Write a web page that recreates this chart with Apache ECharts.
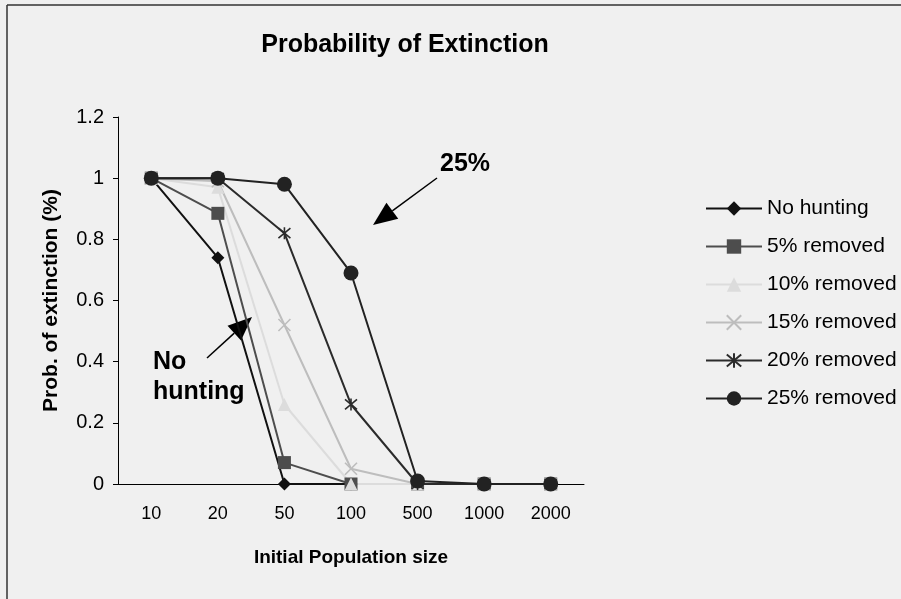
<!DOCTYPE html>
<html>
<head>
<meta charset="utf-8">
<script src="https://cdn.jsdelivr.net/npm/echarts@6/dist/echarts.min.js"></script>
<style>
  html, body { margin: 0; padding: 0; background: #f0f0f0; }
  #chart { width: 901px; height: 599px; }
</style>
</head>
<body>
<div id="chart"></div>
<script>
const categories = ['10', '20', '50', '100', '500', '1000', '2000']
const seriesNames = ['No hunting', '5% removed', '10% removed', '15% removed', '20% removed', '25% removed']
const noHunting = [1, 0.74, 0, 0, 0, 0, 0]
const removed5 = [1, 0.885, 0.07, 0, 0, 0, 0]
const removed10 = [1, 0.97, 0.26, 0, 0, 0, 0]
const removed15 = [1, 0.99, 0.52, 0.05, 0, 0, 0]
const removed20 = [1, 1, 0.82, 0.26, 0, 0, 0]
const removed25 = [1, 1, 0.98, 0.69, 0.01, 0, 0]
const yTicks = [0, 0.2, 0.4, 0.6, 0.8, 1, 1.2]

const font = 'Arial, "Liberation Sans", sans-serif'
const crossPath = 'path://M0,0L10,10M10,0L0,10'
const starPath = 'path://M0,0L10,10M10,0L0,10M5,-1L5,11'

const chart = echarts.init(document.getElementById('chart'))

function arrow(x1, y1, x2, y2) {
  // shaft plus filled head, tip at (x2, y2)
  const dx = x2 - x1, dy = y2 - y1
  const len = Math.hypot(dx, dy)
  const ux = dx / len, uy = dy / len
  const hl = 24, hw = 10
  const bx = x2 - ux * hl, by = y2 - uy * hl
  return [
    { type: 'line', shape: { x1, y1, x2: bx, y2: by }, style: { stroke: '#000', lineWidth: 1.5 } },
    { type: 'polygon', shape: { points: [[x2, y2], [bx - uy * hw, by + ux * hw], [bx + uy * hw, by - ux * hw]] }, style: { fill: '#000' } },
  ]
}

function makeSeries(name, data, color, symbol, size, hollow) {
  return {
    name,
    type: 'line',
    data,
    symbol,
    symbolSize: size,
    showAllSymbol: true,
    lineStyle: { color, width: 2 },
    itemStyle: hollow
      ? { color: 'none', borderColor: color, borderWidth: 1.6 }
      : { color, borderColor: color, borderWidth: 0 },
    emphasis: { disabled: true },
  }
}

chart.setOption({
  animation: false,
  backgroundColor: '#f0f0f0',
  textStyle: { fontFamily: font },
  title: {
    text: 'Probability of Extinction',
    left: 400,
    top: 28,
    textAlign: 'center',
    textStyle: { fontSize: 25, fontWeight: 'bold', color: '#000', fontFamily: font },
  },
  legend: {
    orient: 'vertical',
    left: 700,
    top: 193,
    itemWidth: 56,
    itemHeight: 18,
    itemGap: 17,
    textStyle: { fontSize: 21, color: '#000', lineHeight: 21, fontFamily: font },
    data: seriesNames,
  },
  grid: { left: 118, right: 317, top: 117, bottom: 115 },
  xAxis: {
    type: 'category',
    data: categories,
    name: 'Initial Population size',
    nameLocation: 'middle',
    nameGap: 64,
    nameTextStyle: { fontSize: 19, fontWeight: 'bold', color: '#000', fontFamily: font },
    axisLine: { lineStyle: { color: '#000', width: 1 } },
    axisTick: { length: 6, lineStyle: { color: '#000' } },
    axisLabel: { fontSize: 18, color: '#000', margin: 21, fontFamily: font },
  },
  yAxis: {
    type: 'value',
    min: yTicks[0],
    max: yTicks[yTicks.length - 1],
    interval: 0.2,
    name: 'Prob. of extinction (%)',
    nameLocation: 'middle',
    nameGap: 56,
    nameTextStyle: { fontSize: 21, fontWeight: 'bold', color: '#000', fontFamily: font },
    axisLine: { show: true, lineStyle: { color: '#000', width: 1 } },
    axisTick: { show: true, length: 5, lineStyle: { color: '#000' } },
    splitLine: { show: false },
    axisLabel: { fontSize: 20, color: '#000', margin: 14, fontFamily: font },
  },
  series: [
    makeSeries(seriesNames[0], noHunting, '#111111', 'diamond', 13),
    makeSeries(seriesNames[1], removed5, '#4d4d4d', 'rect', 13),
    makeSeries(seriesNames[2], removed10, '#dcdcdc', 'triangle', 13),
    makeSeries(seriesNames[3], removed15, '#bdbdbd', crossPath, 12, true),
    makeSeries(seriesNames[4], removed20, '#2b2b2b', starPath, 12, true),
    makeSeries(seriesNames[5], removed25, '#222222', 'circle', 15),
  ],
  graphic: [
    { type: 'line', shape: { x1: 7, y1: 5, x2: 901, y2: 5 }, style: { stroke: '#333', lineWidth: 1.5 } },
    { type: 'line', shape: { x1: 7, y1: 5, x2: 7, y2: 599 }, style: { stroke: '#333', lineWidth: 1.5 } },
    { type: 'text', left: 440, top: 152, style: { text: '25%', fill: '#000', font: 'bold 25px ' + font } },
    { type: 'text', left: 153, top: 347, style: { text: 'No\nhunting', fill: '#000', font: 'bold 25px ' + font, lineHeight: 30 } },
    ...arrow(437, 178, 373, 225),
    ...arrow(207, 358, 252, 317),
  ],
})
</script>
</body>
</html>
